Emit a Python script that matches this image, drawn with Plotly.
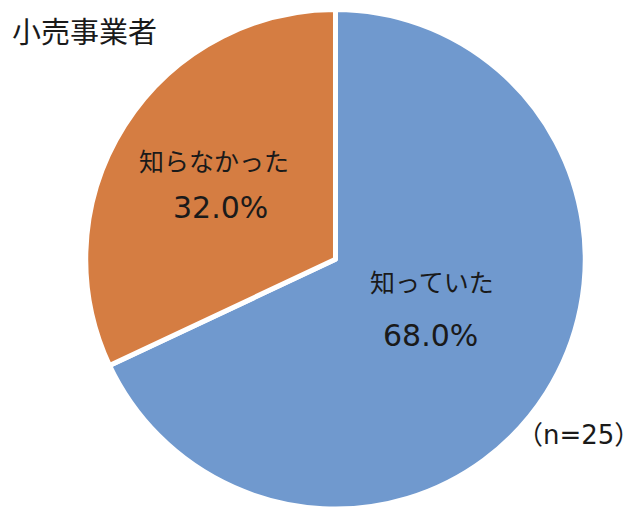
import plotly.graph_objects as go

labels = ["知っていた", "知らなかった"]
values = [68.0, 32.0]
colors = ["#7099CE", "#D57D42"]
title_text = "小売事業者"
note_text = "（n=25）"

jp_font = "Noto Sans CJK JP, Noto Sans, sans-serif"
num_font = "DejaVu Sans, Noto Sans CJK JP, sans-serif"
text_color = "#1a1a1a"

fig = go.Figure(go.Pie(
    labels=labels,
    values=values,
    sort=False,
    direction="clockwise",
    rotation=0,
    marker=dict(colors=colors, line=dict(color="white", width=5)),
    textinfo="none",
    domain=dict(x=[0.1211, 0.9023], y=[0.0253, 0.9971]),
    showlegend=False,
    hoverinfo="skip",
))

# label positions (paper coords) for each slice: (label line, percent line)
label_pos = [((0.6625, 0.4689), (0.6594, 0.3619)),
             ((0.3219, 0.7043), (0.3313, 0.6109))]

total = sum(values)
annotations = []
for lab, val, (p1, p2) in zip(labels, values, label_pos):
    annotations.append(dict(text=lab, x=p1[0], y=p1[1], xref="paper", yref="paper",
                            xanchor="center", yanchor="middle", showarrow=False,
                            font=dict(size=25, color=text_color, family=jp_font)))
    annotations.append(dict(text=f"{val / total * 100:.1f}%", x=p2[0], y=p2[1],
                            xref="paper", yref="paper",
                            xanchor="center", yanchor="middle", showarrow=False,
                            font=dict(size=30, color=text_color, family=num_font)))

annotations.append(dict(text=title_text, x=0.003, y=0.957, xref="paper", yref="paper",
                        xanchor="left", yanchor="middle", showarrow=False,
                        font=dict(size=29, color=text_color, family=jp_font)))
annotations.append(dict(text=note_text, x=0.792, y=0.1693, xref="paper", yref="paper",
                        xanchor="left", yanchor="middle", showarrow=False,
                        font=dict(size=26, color=text_color, family=num_font)))

fig.update_layout(
    width=640, height=514,
    margin=dict(l=0, r=0, t=0, b=0),
    paper_bgcolor="white",
    plot_bgcolor="white",
    font=dict(family=jp_font),
    annotations=annotations,
)

fig.write_html("out.html")
